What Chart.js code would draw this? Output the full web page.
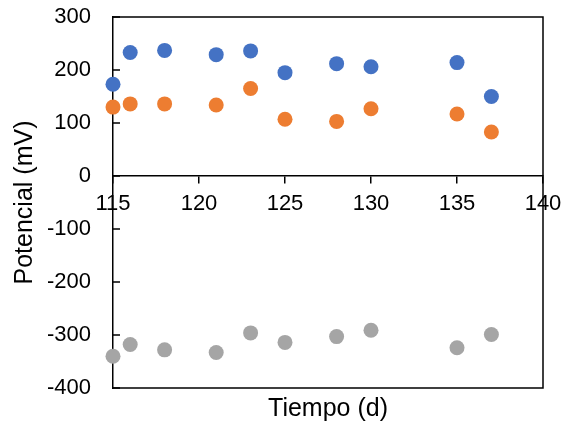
<!DOCTYPE html>
<html>
<head>
<meta charset="utf-8">
<script src="https://cdn.jsdelivr.net/npm/chart.js@4.4.0/dist/chart.umd.min.js"></script>
<style>
  html, body { margin: 0; padding: 0; background: #fff; }
  canvas { display: block; }
</style>
</head>
<body>
<canvas id="c" width="565" height="429"></canvas>
<script>
const days = [115, 116, 118, 121, 123, 125, 128, 130, 135, 137];
const seriesBlue = [173, 233, 237, 229, 236, 195, 212, 206, 214, 150];
const seriesOrange = [130, 136, 136, 134, 165, 107, 103, 127, 117, 83];
const seriesGray = [-340, -318, -328, -333, -296, -314, -303, -291, -324, -299];
const xTitle = 'Tiempo (d)';
const yTitle = 'Potencial (mV)';

const FONT = "'Liberation Sans', Arial, sans-serif";

function pts(vals) { return days.map((d, i) => ({ x: d, y: vals[i] })); }

const framePlugin = {
  id: 'frame',
  beforeDatasetsDraw(chart) {
    const { ctx, chartArea: a } = chart;
    const ys = chart.scales.y;
    ctx.save();
    ctx.strokeStyle = '#000';
    ctx.lineWidth = 1.5;
    ctx.beginPath();
    ctx.moveTo(a.left, a.top);
    ctx.lineTo(a.right, a.top);
    ctx.lineTo(a.right, a.bottom);
    ctx.lineTo(a.left, a.bottom);
    ctx.stroke();
    ctx.beginPath();
    ys.ticks.forEach(t => {
      const py = ys.getPixelForValue(t.value);
      ctx.moveTo(a.left, py);
      ctx.lineTo(a.left + 7, py);
    });
    ctx.stroke();
    ctx.restore();
  }
};

const mk = (label, vals, color) => ({
  label, data: pts(vals), backgroundColor: color, borderWidth: 0,
  pointRadius: 7.5, pointHoverRadius: 7.5, clip: false
});

new Chart(document.getElementById('c'), {
  type: 'scatter',
  data: {
    datasets: [
      mk('A', seriesBlue, '#4472C4'),
      mk('B', seriesOrange, '#ED7D31'),
      mk('C', seriesGray, '#A5A5A5')
    ]
  },
  options: {
    responsive: false,
    devicePixelRatio: 1,
    animation: false,
    layout: { padding: { top: 17, right: 22, left: 0, bottom: 0 } },
    plugins: { legend: { display: false }, tooltip: { enabled: false } },
    scales: {
      x: {
        type: 'linear', min: 115, max: 140, position: { y: 0 },
        ticks: { stepSize: 5, color: '#000', font: { family: FONT, size: 22 }, padding: 8, maxRotation: 0 },
        grid: { drawOnChartArea: false, drawTicks: true, tickLength: 7, color: '#000', lineWidth: 1.5 },
        border: { color: '#000', width: 1.5 },
        afterFit(s) { s.paddingLeft = 0; s.paddingRight = 0; }
      },
      x2: {
        type: 'linear', min: 115, max: 140, position: 'bottom',
        ticks: { display: false },
        grid: { display: false },
        border: { display: false },
        title: { display: true, text: xTitle, color: '#000', font: { family: FONT, size: 25 }, padding: { top: 0, bottom: 5 } },
        afterFit(s) { s.height = 41; }
      },
      y: {
        type: 'linear', min: -400, max: 300,
        ticks: { stepSize: 100, color: '#000', font: { family: FONT, size: 22 }, padding: 14 },
        grid: { display: false },
        border: { color: '#000', width: 1.5 },
        title: { display: true, text: yTitle, color: '#000', font: { family: FONT, size: 25 }, padding: { top: 10, bottom: 0 } },
        afterFit(s) { s.width = 113; s.paddingTop = 0; s.paddingBottom = 0; }
      }
    }
  },
  plugins: [framePlugin]
});
</script>
</body>
</html>
